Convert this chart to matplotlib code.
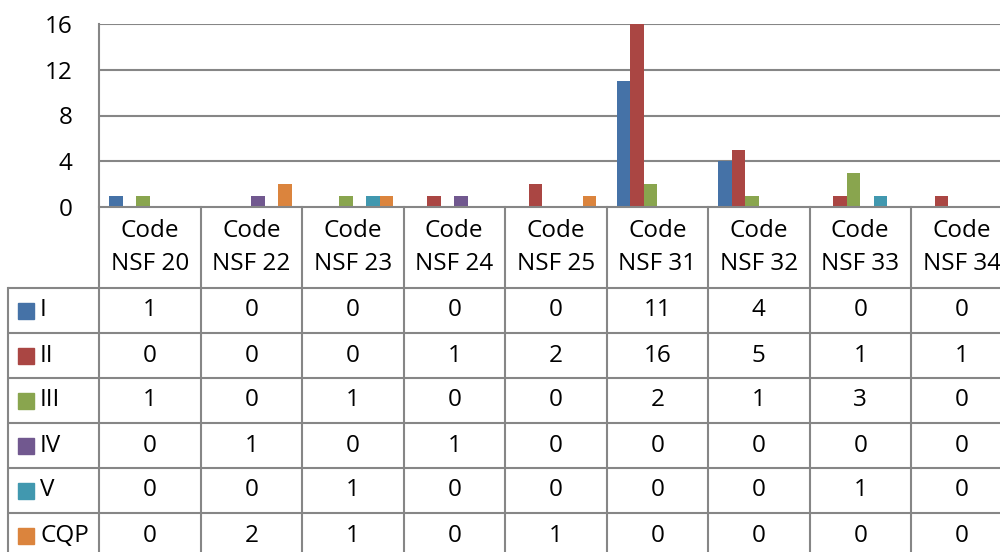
import matplotlib
matplotlib.use("Agg")
import matplotlib.pyplot as plt
from matplotlib.patches import Rectangle

categories = ["Code\nNSF 20", "Code\nNSF 22", "Code\nNSF 23", "Code\nNSF 24", "Code\nNSF 25",
              "Code\nNSF 31", "Code\nNSF 32", "Code\nNSF 33", "Code\nNSF 34"]
series_names = ["I", "II", "III", "IV", "V", "CQP"]
s_I = [1, 0, 0, 0, 0, 11, 4, 0, 0]
s_II = [0, 0, 0, 1, 2, 16, 5, 1, 1]
s_III = [1, 0, 1, 0, 0, 2, 1, 3, 0]
s_IV = [0, 1, 0, 1, 0, 0, 0, 0, 0]
s_V = [0, 0, 1, 0, 0, 0, 0, 1, 0]
s_CQP = [0, 2, 1, 0, 1, 0, 0, 0, 0]
series = [s_I, s_II, s_III, s_IV, s_V, s_CQP]
colors = ["#4572A7", "#AA4643", "#89A54E", "#71588F", "#4198AF", "#DB843D"]
yticks = [0, 4, 8, 12, 16]

plt.rcParams['font.family'] = ['Open Sans', 'DejaVu Sans']
FS = 17.5
GRID = "#868686"
LW = 1.5

W, H = 1000, 552
fig = plt.figure(figsize=(W / 100, H / 100), dpi=100)

n = len(categories)
catw = 101.5
left_px = 99
top_px, zero_px = 24, 207
ax = fig.add_axes([left_px / W, (H - zero_px) / H, n * catw / W, (zero_px - top_px) / H])
ax.set_xlim(-0.5, n - 0.5)
ax.set_ylim(0, 16)
bw = 1 / 7.5
for k, (vals, c) in enumerate(zip(series, colors)):
    xs = [i + (k - 2.5) * bw for i in range(n)]
    ax.bar(xs, vals, width=bw, color=c, edgecolor="none", zorder=3)
ax.set_yticks(yticks)
ax.set_yticklabels([str(t) for t in yticks], fontsize=FS)
ax.set_xticks([])
ax.tick_params(axis="y", length=0, pad=19)
for t in yticks[1:]:
    ax.axhline(t, color=GRID, lw=LW, zorder=1)
for s in ["top", "right", "bottom"]:
    ax.spines[s].set_visible(False)
ax.spines["left"].set_color(GRID)
ax.spines["left"].set_linewidth(LW)

# table axes
tab_left_px = 8
tab_bottom_px = 558
x_left = -0.5 - (left_px - tab_left_px) / catw
tab = fig.add_axes([tab_left_px / W, (H - tab_bottom_px) / H,
                    (left_px + n * catw - tab_left_px) / W, (tab_bottom_px - zero_px) / H])
tab.set_xlim(x_left, n - 0.5)
tab.set_ylim(tab_bottom_px - zero_px, 0)
tab.axis("off")

label_h = 81
row_h = 45
rows_y = [label_h + r * row_h for r in range(len(series) + 1)]
# horizontal lines
tab.plot([-0.5, n - 0.5], [0, 0], color=GRID, lw=LW, solid_capstyle="butt", clip_on=False)
for y in rows_y:
    tab.plot([x_left, n - 0.5], [y, y], color=GRID, lw=LW, solid_capstyle="butt", clip_on=False)
# vertical lines
for i in range(n + 1):
    tab.plot([i - 0.5, i - 0.5], [0, rows_y[-1]], color=GRID, lw=LW, clip_on=False)
tab.plot([x_left, x_left], [label_h, rows_y[-1]], color=GRID, lw=LW, clip_on=False)

# category labels
for i, c in enumerate(categories):
    tab.text(i, label_h / 2, c, ha="center", va="center", fontsize=FS, linespacing=1.45)

# rows
for r, (name, vals, c) in enumerate(zip(series_names, series, colors)):
    yc = label_h + r * row_h + row_h / 2
    ks = 16 / catw
    kx = x_left + 10 / catw
    tab.add_patch(Rectangle((kx, yc - 8), ks, 16, color=c, clip_on=False))
    tab.text(x_left + 32 / catw, yc, name, ha="left", va="center", fontsize=FS)
    for i, v in enumerate(vals):
        tab.text(i, yc, str(v), ha="center", va="center", fontsize=FS)

fig.savefig("out.png", dpi=100)
